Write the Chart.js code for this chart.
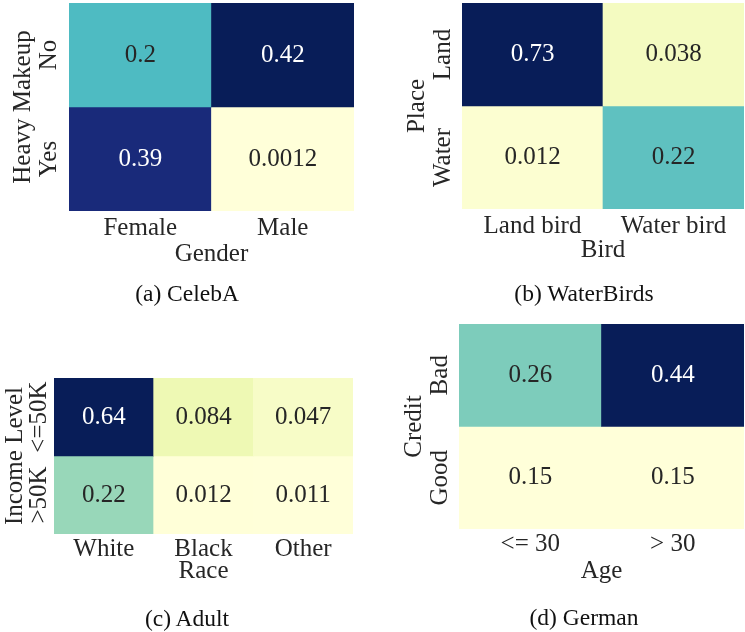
<!DOCTYPE html>
<html>
<head>
<meta charset="utf-8">
<script src="https://cdn.jsdelivr.net/npm/chart.js@4.4.0/dist/chart.umd.min.js"></script>
<style>
  html, body { margin: 0; padding: 0; background: #fff; }
  #wrap { position: relative; width: 745px; height: 632px; overflow: hidden; }
  #wrap canvas { position: absolute; }
  .caption {
    position: absolute;
    font-family: 'Liberation Serif', 'Times New Roman', serif;
    font-size: 23.5px;
    color: #111;
    white-space: nowrap;
    transform: translate(-50%, -50%);
  }
</style>
</head>
<body>
<div id="wrap">
  <canvas id="celeba" width="372" height="316" style="left:0;top:0"></canvas>
  <canvas id="waterbirds" width="373" height="316" style="left:372px;top:0"></canvas>
  <canvas id="adult" width="372" height="316" style="left:0;top:316px"></canvas>
  <canvas id="german" width="373" height="316" style="left:372px;top:316px"></canvas>
</div>
<script>
// (a) CelebA
const celebaCols = ['Female', 'Male'];
const celebaRows = ['No', 'Yes'];
const celebaValues = [[0.2, 0.42], [0.39, 0.0012]];

// (b) WaterBirds
const birdCols = ['Land bird', 'Water bird'];
const birdRows = ['Land', 'Water'];
const birdValues = [[0.73, 0.038], [0.012, 0.22]];

// (c) Adult
const adultCols = ['White', 'Black', 'Other'];
const adultRows = ['<=50K', '>50K'];
const adultValues = [[0.64, 0.084, 0.047], [0.22, 0.012, 0.011]];

// (d) German
const germanCols = ['<= 30', '> 30'];
const germanRows = ['Bad', 'Good'];
const germanValues = [[0.26, 0.44], [0.15, 0.15]];

// YlGnBu anchors
const ylgnbu = ['#ffffd9', '#edf8b1', '#c7e9b4', '#7fcdbb', '#41b6c4', '#1d91c0', '#225ea8', '#253494', '#081d58'];
const FONT = "'Liberation Serif', 'Times New Roman', serif";
const INK = '#262626';

function hexToRgb(h) {
    return [1, 3, 5].map(i => parseInt(h.substr(i, 2), 16));
}

function cmapRgb(v, vmin, vmax) {
    let t = (v - vmin) / (vmax - vmin);
    t = Math.max(0, Math.min(1, t));
    const pos = t * (ylgnbu.length - 1);
    const i = Math.min(Math.floor(pos), ylgnbu.length - 2);
    const f = pos - i;
    const a = hexToRgb(ylgnbu[i]), b = hexToRgb(ylgnbu[i + 1]);
    return a.map((c, k) => Math.round(c + (b[k] - c) * f));
}

function luminance(rgb) {
    const lin = rgb.map(c => {
        c /= 255;
        return c <= 0.03928 ? c / 12.92 : Math.pow((c + 0.055) / 1.055, 2.4);
    });
    return 0.2126 * lin[0] + 0.7152 * lin[1] + 0.0722 * lin[2];
}

const panels = [
    { id: 'celeba', cols: celebaCols, rows: celebaRows, values: celebaValues,
      xTitle: 'Gender', yTitle: 'Heavy Makeup', vmin: 0.0012, vmax: 0.42,
      pad: { top: 3, right: 18, bottom: 47 }, yAxisW: 69, xAxisH: 58, xTickPad: 2, yTitlePad: 8, yTickOff: 20,
      caption: '(a) CelebA', capX: 187, capY: 293 },
    { id: 'waterbirds', cols: birdCols, rows: birdRows, values: birdValues,
      xTitle: 'Bird', yTitle: 'Place', vmin: 0, vmax: 0.5,
      pad: { top: 3, right: 1, bottom: 51 }, yAxisW: 90, xAxisH: 56, xTickPad: 2, yTitlePad: 30, yTickOff: 19,
      caption: '(b) WaterBirds', capX: 584, capY: 293 },
    { id: 'adult', cols: adultCols, rows: adultRows, values: adultValues,
      xTitle: 'Race', yTitle: 'Income Level', vmin: 0.011, vmax: 0.64,
      pad: { top: 62, right: 19, bottom: 46 }, yAxisW: 54, xAxisH: 52, xTickPad: 0, yTitlePad: 0, yTickOff: 15,
      caption: '(c) Adult', capX: 187, capY: 618 },
    { id: 'german', cols: germanCols, rows: germanRows, values: germanValues,
      xTitle: 'Age', yTitle: 'Credit', vmin: 0.15, vmax: 0.44,
      pad: { top: 8, right: 1, bottom: 46 }, yAxisW: 87, xAxisH: 57, xTickPad: 0, yTitlePad: 27, yTickOff: 19,
      caption: '(d) German', capX: 584, capY: 617 }
];

// Cell values and rotated row labels
const heatText = {
    id: 'heatText',
    afterDatasetsDraw(chart, args, opts) {
        const p = opts.panel;
        const ctx = chart.ctx;
        ctx.save();
        ctx.font = `25px ${FONT}`;
        ctx.textAlign = 'center';
        ctx.textBaseline = 'middle';
        p.rows.forEach((row, r) => {
            chart.getDatasetMeta(r).data.forEach((bar, c) => {
                const v = p.values[r][c];
                const lum = luminance(cmapRgb(v, p.vmin, p.vmax));
                ctx.fillStyle = lum > 0.408 ? INK : '#ffffff';
                ctx.fillText(String(v), bar.x, (bar.y + bar.base) / 2);
            });
        });
        const yScale = chart.scales.y;
        ctx.fillStyle = INK;
        p.rows.forEach((row, r) => {
            ctx.save();
            ctx.translate(chart.chartArea.left - p.yTickOff, yScale.getPixelForValue(r + 0.5));
            ctx.rotate(-Math.PI / 2);
            ctx.fillText(row, 0, 0);
            ctx.restore();
        });
        ctx.restore();
    }
};

panels.forEach(p => {
    const datasets = p.rows.map((row, r) => ({
        label: row,
        data: p.cols.map(() => [r, r + 1]),
        backgroundColor: p.values[r].map(v => `rgb(${cmapRgb(v, p.vmin, p.vmax).join(',')})`),
        borderWidth: 0,
        borderSkipped: false,
        categoryPercentage: 1,
        barPercentage: 1,
        grouped: false
    }));

    new Chart(document.getElementById(p.id), {
        type: 'bar',
        data: { labels: p.cols, datasets: datasets },
        options: {
            responsive: false,
            animation: false,
            layout: { padding: { left: 0, top: p.pad.top, right: p.pad.right, bottom: p.pad.bottom } },
            plugins: {
                legend: { display: false },
                tooltip: { enabled: false },
                heatText: { panel: p }
            },
            scales: {
                x: {
                    grid: { display: false, drawTicks: false },
                    border: { display: false },
                    ticks: { color: INK, font: { family: FONT, size: 25 }, padding: p.xTickPad, maxRotation: 0, autoSkip: false },
                    title: { display: true, text: p.xTitle, color: INK, font: { family: FONT, size: 25 }, padding: 0 },
                    afterFit: s => { s.height = p.xAxisH; }
                },
                y: {
                    min: 0,
                    max: p.rows.length,
                    reverse: true,
                    grid: { display: false, drawTicks: false },
                    border: { display: false },
                    ticks: { display: false },
                    title: { display: true, text: p.yTitle, color: INK, font: { family: FONT, size: 25 }, padding: { top: p.yTitlePad, bottom: 0 } },
                    afterFit: s => { s.width = p.yAxisW; }
                }
            }
        },
        plugins: [heatText]
    });

    const cap = document.createElement('div');
    cap.className = 'caption';
    cap.textContent = p.caption;
    cap.style.left = p.capX + 'px';
    cap.style.top = p.capY + 'px';
    document.getElementById('wrap').appendChild(cap);
});
</script>
</body>
</html>
